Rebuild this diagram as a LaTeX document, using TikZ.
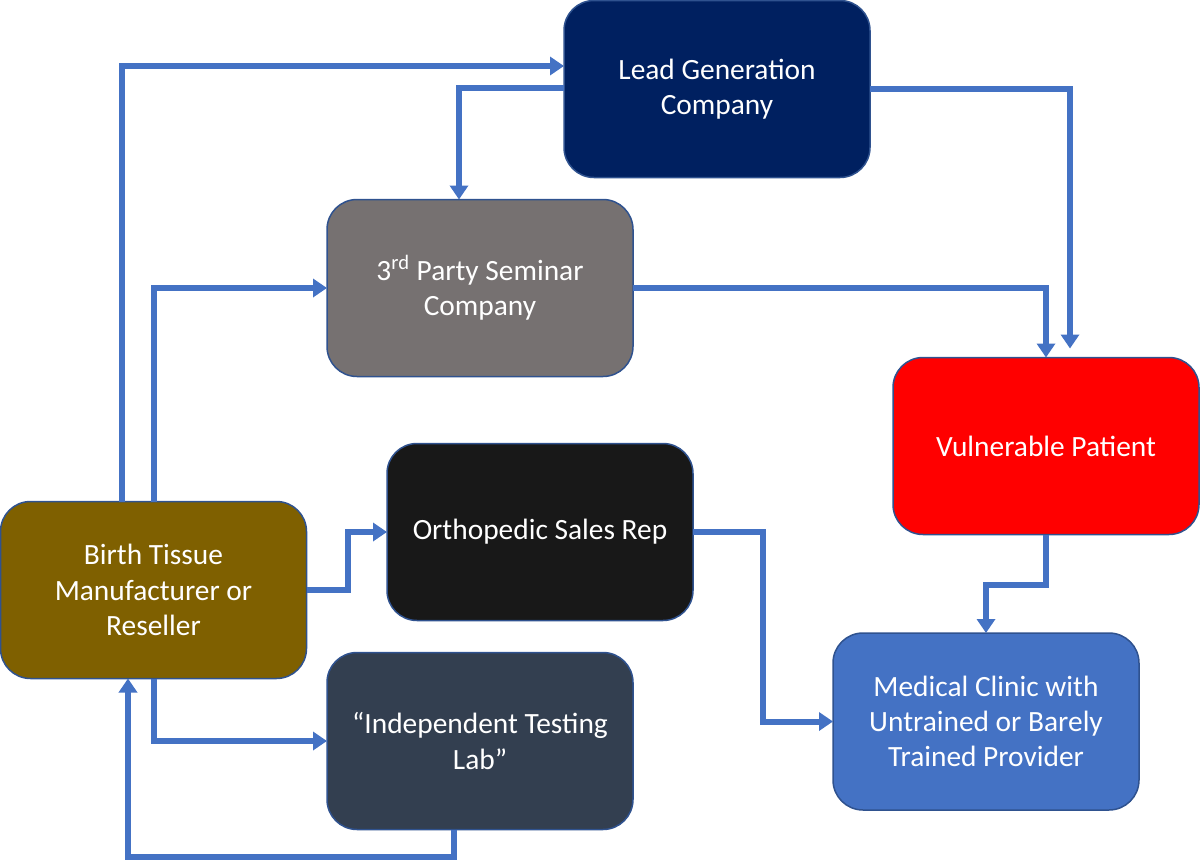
\documentclass[tikz,border=0pt]{standalone}
\usepackage{fontspec}
\setmainfont{Carlito}
\usetikzlibrary{arrows.meta}
\definecolor{cLead}{HTML}{002060}
\definecolor{cSem}{HTML}{767171}
\definecolor{cVul}{HTML}{FF0000}
\definecolor{cOrt}{HTML}{181818}
\definecolor{cBir}{HTML}{7F6000}
\definecolor{cTes}{HTML}{333F50}
\definecolor{cMed}{HTML}{4472C4}
\definecolor{cBrd}{HTML}{2F528F}
\definecolor{cCon}{HTML}{4472C4}
\tikzset{
  box/.style={draw=cBrd, line width=0.75pt, rounded corners=15pt, minimum width=153pt, minimum height=88.5pt,
    inner sep=0pt, outer sep=0pt, text=white, align=center, font=\fontsize{14.7}{17.6}\selectfont},
  conn/.style={draw=cCon, line width=3pt, -{Triangle[length=7pt,width=9pt]}}
}
\begin{document}
\begin{tikzpicture}[x=0.5pt,y=-0.5pt]
\useasboundingbox (0,0) rectangle (1200,862);
\node[box, fill=cLead] (lead) at (717,89) {Lead Generation\\Company};
\node[box, fill=cSem] (seminar) at (480,288) {3\textsuperscript{rd} Party Seminar\\Company};
\node[box, fill=cVul] (vuln) at (1046,446) {Vulnerable Patient};
\node[box, fill=cOrt] (ortho) at (540,532) {Orthopedic Sales Rep};
\node[box, fill=cBir] (birth) at (153.5,590) {Birth Tissue\\Manufacturer or\\Reseller};
\node[box, fill=cTes] (testing) at (480,741) {“Independent Testing\\Lab”};
\node[box, fill=cMed] (medical) at (986,721.5) {Medical Clinic with\\Untrained or Barely\\Trained Provider};
\draw[conn] ([xshift=-15.75pt]birth.north) |- ([yshift=11.5pt]lead.west);
\draw[conn] (birth.north) |- (seminar.west);
\draw[conn] (birth.east) -- ++(20.5pt,0) |- (ortho.west);
\draw[conn] (birth.south) |- (testing.west);
\draw[conn] ([xshift=-13pt]testing.south) -- ++(0,-13.5pt) -| ([xshift=-12.75pt]birth.south);
\draw[conn] ([yshift=0.5pt]lead.west) -| ([xshift=-10.5pt]seminar.north);
\draw[conn] (lead.east) -| ([xshift=12pt,yshift=4.5pt]vuln.north);
\draw[conn] (seminar.east) -| (vuln.north);
\draw[conn] (ortho.east) -- ++(35pt,0) |- (medical.west);
\draw[conn] (vuln.south) -- ++(0,-25pt) -| (medical.north);
\end{tikzpicture}
\end{document}
